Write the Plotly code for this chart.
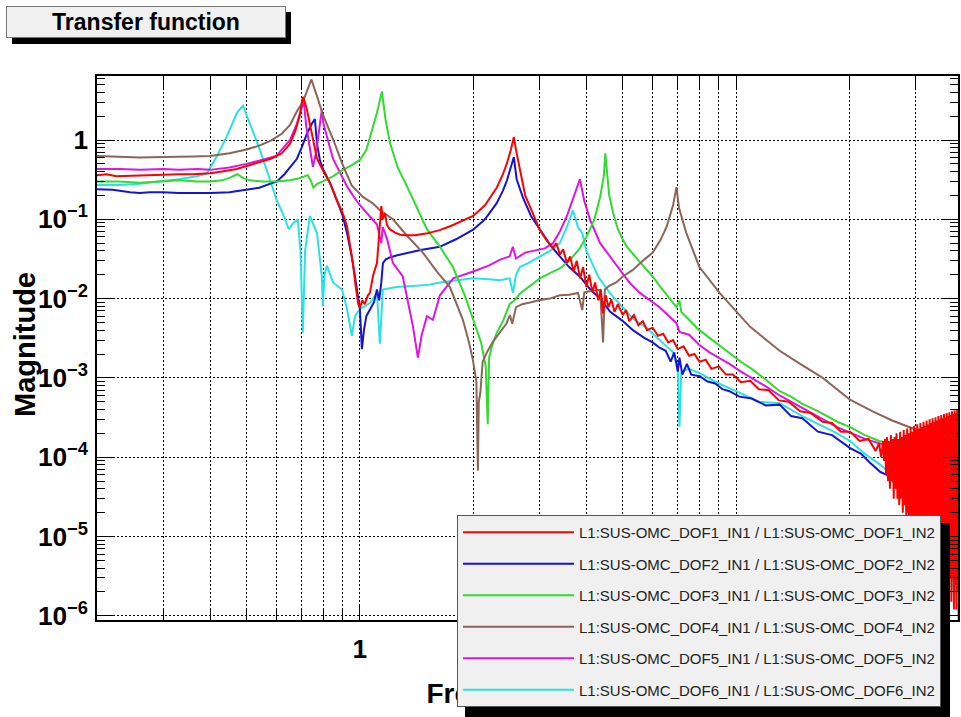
import math
import plotly.graph_objects as go

FONT = "Liberation Sans, Arial, sans-serif"

# ---------------- data (frequency Hz, magnitude) ----------------
DOF1 = [(0.200,0.36),(0.212,0.37),(0.225,0.35),(0.245,0.355),(0.27,0.36),(0.30,0.36),(0.33,0.37),(0.36,0.37),
        (0.40,0.38),(0.43,0.40),(0.47,0.43),(0.50,0.47),(0.54,0.52),(0.58,0.58),(0.62,0.68),(0.652,0.9),
        (0.675,1.35),(0.693,2.1),(0.705,3.5),(0.714,3.0),(0.723,2.4),(0.745,1.2),(0.769,0.58),(0.80,0.40),
        (0.832,0.29),(0.87,0.17),(0.90,0.12),(0.924,0.082),(0.945,0.045),(0.958,0.028),(0.975,0.014),
        (0.99,0.0085),(1.0,0.0077),(1.015,0.0095),(1.03,0.0085),(1.05,0.011),(1.063,0.0118),(1.085,0.02),
        (1.11,0.028),(1.125,0.07),(1.14,0.147),(1.15,0.10),(1.165,0.12),(1.18,0.085),(1.20,0.075),(1.24,0.068),
        (1.28,0.064),(1.33,0.063),(1.40,0.063),(1.50,0.066),(1.63,0.073),(1.75,0.083),(1.87,0.095),(2.0,0.11),
        (2.15,0.15),(2.31,0.25),(2.40,0.37),(2.46,0.51),(2.52,0.76),(2.566,1.09),(2.60,0.75),(2.66,0.42),
        (2.75,0.20),(2.88,0.12),(3.0,0.075),(3.13,0.055),(3.26,0.044),(3.33,0.05),(3.4,0.036),(3.47,0.042),
        (3.55,0.028),(3.62,0.034),(3.7,0.022),(3.77,0.03),(3.85,0.018),(3.92,0.025),(4.0,0.014),(4.07,0.02),
        (4.15,0.012),(4.22,0.016),(4.3,0.0095),(4.37,0.013),(4.43,0.0065),(4.5,0.011),(4.58,0.0078),
        (4.66,0.0098),(4.75,0.0068),(4.85,0.0085),(5.0,0.0062),(5.1,0.0072),(5.2,0.0052),(5.35,0.0062),
        (5.5,0.0046),(5.65,0.0052),(5.8,0.0040),(6.0,0.0043),(6.2,0.0034),(6.4,0.0036),(6.6,0.0028),
        (6.8,0.0030),(7.0,0.0023),(7.25,0.0025),(7.5,0.0019),(7.75,0.0020),(8.0,0.0016),(8.3,0.0017),
        (8.6,0.0013),(9.0,0.0014),(9.4,0.0011),(9.8,0.0011),(10.3,0.00088),(10.9,0.00092),(11.5,0.00072),
        (12.2,0.00070),(13.0,0.00052),(13.8,0.00050),(14.8,0.00038),(15.8,0.00036),(17.0,0.00028),
        (18.0,0.00027),(19.0,0.00021),(20.1,0.00021),(21.3,0.00016),(22.5,0.00017),(23.5,0.00012),
        (24.0,0.00015),(24.3,0.0001),
        (24.6,0.00016),(24.75,0.00009),(24.9,0.00017),(25.05,0.00006),(25.2,0.00018),(25.35,0.00005),
        (25.5,0.00016),(25.65,0.00004),(25.8,0.00019),(25.95,0.00005),(26.1,0.00017),(26.25,0.00003),
        (26.4,0.00018),(26.55,0.00004),(26.7,0.0002),(26.85,0.00003),(27.0,0.00017),(27.15,0.000025),
        (27.3,0.00021),(27.45,0.00003),(27.6,0.00018),(27.75,0.00002),(27.9,0.00022),(28.05,0.000025),
        (28.2,0.00019),(28.35,0.000015),(28.5,0.00023),(28.65,0.00002),(28.8,0.0002),(28.95,0.000012),
        (29.1,0.00024),(29.25,0.000018),(29.4,0.00021),(29.55,0.00001),(29.7,0.00025),(29.85,0.000015),
        (30.0,0.00022),(30.15,0.000008),(30.3,0.00026),(30.45,0.000012),(30.6,0.00023),(30.75,0.000007),
        (30.9,0.00027),(31.05,0.00001),(31.2,0.00024),(31.35,0.000006),(31.5,0.00028),(31.65,0.000009),
        (31.8,0.00025),(31.95,0.000005),(32.1,0.00029),(32.25,0.000008),(32.4,0.00026),(32.55,0.000004),
        (32.7,0.0003),(32.85,0.000007),(33.0,0.00027),(33.15,0.000004),(33.3,0.00031),(33.45,0.000006),
        (33.6,0.00028),(33.75,0.000003),(33.9,0.00032),(34.05,0.000005),(34.2,0.00029),(34.35,0.000003),
        (34.5,0.00033),(34.65,0.000005),(34.8,0.0003),(34.95,0.000002),(35.1,0.00034),(35.25,0.000004),
        (35.4,0.00031),(35.55,0.000002),(35.7,0.00035),(35.85,0.000004),(36.0,0.00032),(36.15,0.000002),
        (36.3,0.00036),(36.45,0.000003),(36.6,0.00033),(36.75,0.0000015),(36.9,0.00037),(37.05,0.000003),
        (37.2,0.00034),(37.35,0.0000015),(37.5,0.00038),(37.65,0.000003),(37.8,0.00035),(37.95,0.0000012),
        (38.1,0.00039),(38.25,0.0000025),(38.4,0.00036),(38.55,0.0000012),(38.7,0.0004),(38.85,0.000002),
        (39.0,0.00037)]

DOF2 = [(0.200,0.24),(0.22,0.235),(0.245,0.22),(0.26,0.215),(0.276,0.22),(0.30,0.22),(0.33,0.215),(0.37,0.215),
        (0.40,0.215),(0.45,0.22),(0.50,0.235),(0.54,0.25),(0.576,0.28),(0.602,0.30),(0.63,0.37),(0.652,0.45),
        (0.68,0.58),(0.70,0.8),(0.723,1.2),(0.745,1.6),(0.759,1.84),(0.769,0.9),(0.783,0.55),(0.80,0.42),
        (0.832,0.29),(0.87,0.17),(0.90,0.11),(0.924,0.067),(0.95,0.035),(0.97,0.019),(0.99,0.0095),
        (1.0,0.0073),(1.012,0.0023),(1.025,0.004),(1.04,0.006),(1.063,0.0073),(1.09,0.009),(1.11,0.013),
        (1.125,0.0095),(1.14,0.016),(1.151,0.028),(1.17,0.031),(1.20,0.033),(1.25,0.035),(1.33,0.0375),
        (1.45,0.041),(1.63,0.045),(1.80,0.056),(2.0,0.074),(2.15,0.10),(2.31,0.16),(2.40,0.23),(2.46,0.31),
        (2.52,0.45),(2.566,0.61),(2.61,0.32),(2.71,0.19),(2.85,0.11),(3.01,0.074),(3.2,0.048),(3.4,0.034),
        (3.6,0.025),(3.84,0.019),(4.1,0.013),(4.35,0.010),(4.63,0.0068),(5.0,0.0052),(5.32,0.0040),
        (5.7,0.0032),(6.0,0.0028),(6.26,0.0024),(6.5,0.0022),(6.7,0.0016),(6.85,0.0021),(7.0,0.0012),
        (7.07,0.0018),(7.2,0.0011),(7.4,0.0015),(7.6,0.0011),(8.0,0.00105),(8.4,0.0009),(8.8,0.00085),
        (9.2,0.00072),(9.6,0.00068),(10.2,0.00058),(11.0,0.00055),(12.0,0.00045),(13.06,0.00046),
        (14.0,0.00033),(15.0,0.00031),(16.5,0.00021),(18.0,0.00019),(20.1,0.00013),(21.5,0.00011),
        (22.7,0.000085),(24.2,0.000065),(25.5,0.000058),(27.3,0.000038),(28.3,0.000042),(29.0,0.000014),
        (29.5,0.00003),(30.0,0.00001),(30.5,0.000025),(31.0,0.000008),(31.5,0.00002),(32.0,0.000006),
        (33.0,0.000015),(34.0,0.000004),(35.0,0.000011),(36.0,0.000003),(37.0,0.000008),(38.0,0.0000025),
        (39.0,0.000006)]

DOF3 = [(0.200,0.30),(0.23,0.30),(0.26,0.29),(0.30,0.30),(0.33,0.31),(0.37,0.30),(0.40,0.30),(0.43,0.31),
        (0.455,0.34),(0.472,0.37),(0.49,0.33),(0.51,0.31),(0.55,0.30),(0.60,0.30),(0.652,0.31),(0.69,0.33),
        (0.727,0.36),(0.742,0.30),(0.752,0.25),(0.77,0.28),(0.797,0.30),(0.85,0.35),(0.90,0.42),(0.95,0.48),
        (1.0,0.56),(1.04,0.75),(1.083,1.46),(1.11,2.2),(1.144,4.1),(1.17,1.8),(1.202,0.92),(1.26,0.45),
        (1.334,0.26),(1.44,0.12),(1.507,0.075),(1.632,0.045),(1.767,0.025),(1.90,0.011),(2.0,0.0054),
        (2.1,0.0028),(2.16,0.0014),(2.187,0.00026),(2.205,0.0018),(2.243,0.0025),(2.31,0.0037),(2.40,0.0052),
        (2.50,0.0085),(2.582,0.0096),(2.66,0.0115),(2.8,0.014),(3.01,0.018),(3.2,0.021),(3.4,0.024),
        (3.6,0.03),(3.844,0.043),(4.0,0.06),(4.2,0.10),(4.35,0.19),(4.45,0.35),(4.49,0.68),(4.53,0.4),
        (4.6,0.2),(4.712,0.12),(4.85,0.075),(5.0,0.055),(5.13,0.045),(5.546,0.029),(6.0,0.019),(6.26,0.0145),
        (6.6,0.0105),(6.944,0.0078),(7.07,0.0095),(7.15,0.0068),(7.5,0.0054),(7.988,0.0040),(8.5,0.0032),
        (9.0,0.0026),(9.6,0.0021),(10.3,0.0016),(11.0,0.0013),(12.0,0.00095),(13.06,0.00068),(14.0,0.00058),
        (15.0,0.00047),(16.5,0.00038),(18.57,0.00028),(20.1,0.00024),(22.0,0.00019),(24.0,0.00016),
        (26.0,0.00015),(28.0,0.00013),(29.4,0.00012),(29.9,0.00019),(30.3,0.00014),(32.0,0.00015),
        (34.0,0.00016),(36.0,0.00016),(39.0,0.00017)]

DOF4 = [(0.200,0.63),(0.23,0.62),(0.26,0.60),(0.30,0.61),(0.33,0.61),(0.36,0.62),(0.40,0.63),(0.45,0.68),
        (0.50,0.76),(0.54,0.85),(0.58,0.98),(0.62,1.2),(0.652,1.55),(0.68,2.3),(0.705,3.0),(0.725,4.2),
        (0.743,5.8),(0.77,3.5),(0.797,2.1),(0.85,1.0),(0.901,0.48),(0.95,0.27),(1.02,0.19),(1.08,0.16),
        (1.13,0.13),(1.224,0.10),(1.334,0.062),(1.47,0.038),(1.6,0.022),(1.735,0.014),(1.878,0.0054),
        (1.95,0.0028),(1.996,0.0017),(2.04,0.0009),(2.059,0.000068),(2.07,0.0005),(2.09,0.00065),
        (2.12,0.0016),(2.176,0.0021),(2.25,0.0028),(2.357,0.0037),(2.45,0.0048),(2.505,0.0062),(2.54,0.0048),
        (2.6,0.0078),(2.7,0.0085),(2.85,0.009),(3.01,0.0096),(3.2,0.0100),(3.4,0.011),(3.6,0.0112),
        (3.8,0.0118),(3.9,0.0072),(3.95,0.012),(4.1,0.0125),(4.35,0.0129),(4.43,0.0028),(4.48,0.013),
        (4.6,0.0145),(4.8,0.016),(5.0,0.019),(5.316,0.023),(5.7,0.031),(6.003,0.038),(6.3,0.055),
        (6.534,0.08),(6.8,0.15),(6.944,0.255),(7.05,0.14),(7.376,0.067),(7.99,0.025),(9.04,0.0118),
        (10.9,0.0044),(13.06,0.0022),(14.8,0.0015),(17.0,0.0010),(20.08,0.00053),(23.0,0.00038),
        (26.0,0.00029),(30.3,0.00022),(34.9,0.00017),(39.0,0.00015)]

DOF5 = [(0.200,0.43),(0.23,0.43),(0.26,0.42),(0.30,0.43),(0.33,0.42),(0.37,0.43),(0.40,0.42),(0.45,0.45),
        (0.50,0.50),(0.55,0.56),(0.60,0.63),(0.652,1.0),(0.68,1.6),(0.70,2.6),(0.71,2.9),(0.72,1.5),
        (0.736,0.75),(0.745,0.55),(0.75,0.46),(0.765,0.7),(0.78,1.4),(0.792,2.4),(0.80,1.6),(0.848,0.58),
        (0.924,0.26),(0.98,0.17),(1.02,0.135),(1.11,0.086),(1.14,0.05),(1.15,0.08),(1.18,0.057),
        (1.224,0.028),(1.30,0.019),(1.383,0.0045),(1.426,0.0018),(1.46,0.0035),(1.507,0.006),(1.563,0.0054),
        (1.632,0.011),(1.77,0.018),(2.0,0.022),(2.2,0.026),(2.36,0.031),(2.5,0.034),(2.55,0.045),(2.6,0.032),
        (2.75,0.038),(2.9,0.04),(3.1,0.043),(3.26,0.05),(3.4,0.07),(3.55,0.11),(3.68,0.18),(3.844,0.32),
        (3.95,0.17),(4.086,0.1),(4.35,0.05),(4.6,0.035),(4.915,0.023),(5.2,0.016),(5.546,0.0118),
        (6.26,0.0078),(6.944,0.0049),(7.07,0.0038),(7.5,0.0035),(7.988,0.0026),(8.5,0.0021),(9.0,0.0018),
        (9.6,0.0015),(10.3,0.0012),(11.0,0.0010),(12.0,0.00078),(13.06,0.00060),(15.0,0.00042),
        (18.57,0.00024),(22.0,0.00017),(25.0,0.00014),(28.0,0.00012),(31.0,0.0001)]

DOF6 = [(0.200,0.27),(0.23,0.27),(0.26,0.28),(0.30,0.30),(0.33,0.32),(0.369,0.35),(0.392,0.38),(0.417,0.63),
        (0.443,1.12),(0.471,2.2),(0.489,2.7),(0.51,1.6),(0.542,0.75),(0.576,0.32),(0.602,0.17),(0.628,0.11),
        (0.647,0.075),(0.665,0.09),(0.684,0.1),(0.695,0.04),(0.705,0.0037),(0.715,0.04),(0.736,0.11),
        (0.769,0.067),(0.792,0.019),(0.797,0.008),(0.805,0.02),(0.817,0.026),(0.848,0.016),(0.896,0.013),
        (0.924,0.0074),(0.952,0.0034),(0.97,0.006),(1.0,0.0074),(1.063,0.0088),(1.11,0.0118),(1.13,0.0027),
        (1.151,0.013),(1.25,0.014),(1.383,0.0144),(1.535,0.015),(1.632,0.016),(1.8,0.017),(1.996,0.018),
        (2.2,0.0175),(2.357,0.017),(2.5,0.018),(2.551,0.0118),(2.6,0.02),(2.662,0.025),(2.8,0.028),
        (3.01,0.034),(3.2,0.04),(3.4,0.05),(3.55,0.08),(3.683,0.13),(3.8,0.08),(3.9,0.067),(4.0,0.04),
        (4.1,0.031),(4.3,0.019),(4.6,0.012),(5.0,0.0078),(5.316,0.0056),(5.8,0.0042),(6.26,0.003),
        (6.8,0.0021),(7.0,0.0014),(7.071,0.00024),(7.15,0.0012),(7.5,0.0013),(7.988,0.00115),(9.0,0.00085),
        (10.0,0.00068),(11.5,0.0005),(13.06,0.00048),(15.0,0.00033),(18.57,0.0002),(20.1,0.00016),
        (22.0,0.00011),(24.2,0.00008),(27.0,0.00005),(29.0,0.000035),(30.0,0.00002),(31.0,0.000035),
        (32.0,0.000012),(33.0,0.000025),(34.0,0.000007),(35.0,0.000015),(36.0,0.000004),(37.0,0.000009),
        (38.0,0.0000015),(38.6,0.000005),(39.0,0.0000008)]

NAMES = ["L1:SUS-OMC_DOF%d_IN1 / L1:SUS-OMC_DOF%d_IN2" % (i, i) for i in range(1, 7)]
COLORS = ["#ff0000", "#1414d2", "#2fdc2f", "#8b6656", "#e014e0", "#28e3e3"]
SERIES = [DOF1, DOF2, DOF3, DOF4, DOF5, DOF6]
DRAW_ORDER = [5, 1, 4, 2, 3, 0]   # red drawn last, on top

TITLE_TEXT = "Transfer function"
X_TITLE = "Frequency (Hz)"
Y_TITLE = "Magnitude"

fig = go.Figure()
for idx in DRAW_ORDER:
    f, m = zip(*SERIES[idx])
    fig.add_trace(go.Scatter(
        x=list(f), y=list(m), mode="lines", name=NAMES[idx],
        line=dict(color=COLORS[idx], width=2),
        legendgroup="g%d" % idx, legendrank=idx + 1,
    ))

axis_common = dict(
    type="log", showline=True, linecolor="black", linewidth=1.5, mirror="allticks",
    ticks="inside", tickcolor="black", tickwidth=1,
    showgrid=True, gridcolor="black", gridwidth=1, griddash="2px,2px",
    zeroline=False, exponentformat="power", dtick=1,
    tickfont=dict(family=FONT, size=21, color="black", weight="bold"),
)

fig.update_xaxes(
    **axis_common,
    range=[math.log10(0.2), 1.590],
    ticklen=14,
    minor=dict(dtick="D1", ticks="inside", ticklen=12, tickcolor="black",
               showgrid=True, gridcolor="black", gridwidth=1, griddash="2px,2px"),
    ticklabelstandoff=6,
)
fig.update_yaxes(
    **axis_common,
    range=[-6.053, 0.807],
    ticklen=16,
    minor=dict(dtick="D1", ticks="inside", ticklen=8, tickcolor="black", showgrid=False),
    ticklabelstandoff=3,
)

PW = 861.0  # plot width px
PH = 544.0  # plot height px


def px_x(p):
    return (p - 97) / PW


def px_y(p):
    return (620 - p) / PH


fig.update_layout(
    width=961, height=717,
    margin=dict(l=97, r=3, t=76, b=97, autoexpand=False),
    paper_bgcolor="white", plot_bgcolor="white",
    showlegend=True,
    legend=dict(
        x=px_x(457), y=px_y(515), xanchor="left", yanchor="top",
        bgcolor="#f0f0f0", bordercolor="#555555", borderwidth=1,
        font=dict(family=FONT, size=15, color="#222222"),
        itemwidth=111, tracegroupgap=9, traceorder="grouped",
    ),
    annotations=[
        dict(text="<b>%s</b>" % TITLE_TEXT, xref="paper", yref="paper",
             x=px_x(146), y=px_y(22), xanchor="center", yanchor="middle",
             showarrow=False, font=dict(family=FONT, size=23, color="black"),
             bgcolor="#f0f0f0", bordercolor="#777777", borderwidth=1,
             width=276, height=28),
        dict(text="<b>%s</b>" % Y_TITLE, xref="paper", yref="paper",
             x=px_x(25), y=px_y(345), xanchor="center", yanchor="middle",
             textangle=-90, showarrow=False,
             font=dict(family=FONT, size=29, color="black")),
    ],
    shapes=[
        # x-axis title, kept in the layer beneath the legend (as in the reference)
        dict(type="rect", xref="paper", yref="paper", layer="above",
             x0=0, x1=1, y0=px_y(708), y1=px_y(672),
             line=dict(width=0), fillcolor="rgba(0,0,0,0)",
             label=dict(text="<b>%s</b>" % X_TITLE, textposition="middle center",
                        font=dict(family=FONT, size=28, color="black"))),
        # title-box shadow
        dict(type="rect", xref="paper", yref="paper", layer="above",
             x0=px_x(12), x1=px_x(291), y0=px_y(44), y1=px_y(12),
             fillcolor="black", line=dict(width=0)),
        # legend shadow
        dict(type="rect", xref="paper", yref="paper", layer="above",
             x0=px_x(465), x1=px_x(950), y0=px_y(717), y1=px_y(523),
             fillcolor="black", line=dict(width=0)),
    ],
)

fig.write_html("out.html")
